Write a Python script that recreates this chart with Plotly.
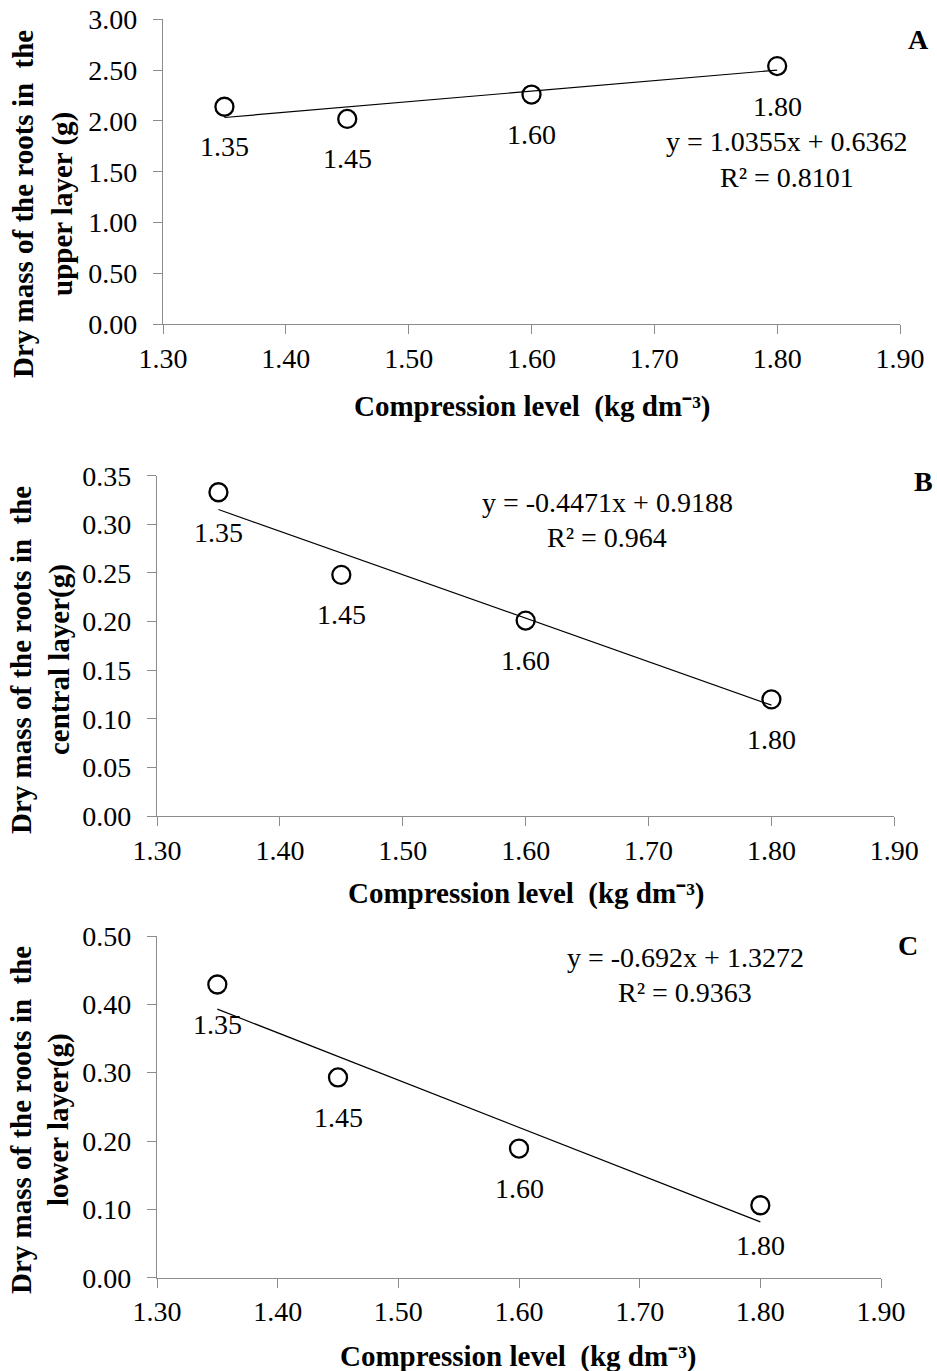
import plotly.graph_objects as go

# ---------------- data ----------------
compression = [1.35, 1.45, 1.60, 1.80]
upper_mass = [2.14, 2.02, 2.26, 2.54]
central_mass = [0.333, 0.248, 0.201, 0.120]
lower_mass = [0.429, 0.293, 0.189, 0.106]

slopes = [1.0355, -0.4471, -0.692]
intercepts = [0.6362, 0.9188, 1.3272]
equations = ["y = 1.0355x + 0.6362", "y = -0.4471x + 0.9188", "y = -0.692x + 1.3272"]
r_squared = ["R² = 0.8101", "R² = 0.964", "R² = 0.9363"]
panel_letters = ["A", "B", "C"]
y_titles_1 = ["Dry mass of the roots in  the", "Dry mass of the roots in  the", "Dry mass of the roots in  the"]
y_titles_2 = ["upper layer (g)", "central layer(g)", "lower layer(g)"]
x_title = "Compression level  (kg dm⁻³)"
y_max = [3.0, 0.35, 0.5]
y_dtick = [0.5, 0.05, 0.1]
x_ticks = [1.30, 1.40, 1.50, 1.60, 1.70, 1.80, 1.90]

series = [upper_mass, central_mass, lower_mass]

# ---------------- layout geometry (pixels) ----------------
W, H = 937, 1371
plot_px = [  # x0, x1, ytop, ybottom
    (163, 900, 19.3, 324.3),
    (157, 894.3, 475.7, 816.0),
    (157, 881, 936.0, 1277.7),
]
eq_px = [(787, 142), (607, 502), (685, 957)]
letter_px = [(918, 40), (923, 482), (908, 945)]
xtitle_px = [(532, 406), (526, 893), (518, 1356)]
ytitle_px = [(23, 63, 204), (21, 59, 660), (21, 58, 1120)]

FONT = "Liberation Serif, Times New Roman, serif"
AX_COLOR = "#8c8c8c"
FS = 28

def px(x):
    return x / W

def py(y):
    return 1 - y / H

fig = go.Figure()
annotations = []
layout = dict(
    width=W, height=H,
    margin=dict(l=0, r=0, t=0, b=0, autoexpand=False),
    paper_bgcolor="white", plot_bgcolor="white",
    showlegend=False,
    font=dict(family=FONT, size=FS, color="black"),
)

for i in range(3):
    sfx = "" if i == 0 else str(i + 1)
    xa, ya = "x" + sfx, "y" + sfx
    x0, x1, yt, yb = plot_px[i]
    xmin, xmax = min(compression), max(compression)
    fig.add_trace(go.Scatter(
        x=[xmin, xmax],
        y=[slopes[i] * xmin + intercepts[i], slopes[i] * xmax + intercepts[i]],
        mode="lines", line=dict(color="black", width=1.2),
        xaxis=xa, yaxis=ya, hoverinfo="skip"))
    fig.add_trace(go.Scatter(
        x=compression, y=series[i], mode="markers",
        marker=dict(symbol="circle-open", size=18, color="black",
                    line=dict(width=2.3, color="black")),
        xaxis=xa, yaxis=ya))
    common = dict(showgrid=False, zeroline=False, showline=True, linecolor=AX_COLOR,
                  linewidth=1.3, ticks="outside", ticklen=9, tickcolor=AX_COLOR,
                  tickwidth=1.3, tickfont=dict(family=FONT, size=FS, color="black"),
                  tickformat=".2f", automargin=False)
    layout["xaxis" + sfx] = dict(common, domain=[px(x0), px(x1)], range=[1.3, 1.9],
                                 tickvals=x_ticks, anchor=ya)
    layout["yaxis" + sfx] = dict(common, domain=[py(yb), py(yt)], range=[0, y_max[i]],
                                 dtick=y_dtick[i], tick0=0, anchor=xa,
                                 ticklabelstandoff=10)
    # point labels
    for xv, yv in zip(compression, series[i]):
        annotations.append(dict(x=xv, y=yv, xref=xa, yref=ya, text=f"{xv:.2f}",
                                showarrow=False, yshift=-40,
                                font=dict(family=FONT, size=FS, color="black")))
    ex, ey = eq_px[i]
    annotations.append(dict(x=px(ex), y=py(ey), xref="paper", yref="paper",
                            text=equations[i], showarrow=False,
                            xanchor="center", yanchor="middle",
                            font=dict(family=FONT, size=FS, color="black")))
    annotations.append(dict(x=px(ex), y=py(ey + 35), xref="paper", yref="paper",
                            text=r_squared[i], showarrow=False,
                            xanchor="center", yanchor="middle",
                            font=dict(family=FONT, size=FS, color="black")))
    lx, ly = letter_px[i]
    annotations.append(dict(x=px(lx), y=py(ly), xref="paper", yref="paper",
                            text=f"<b>{panel_letters[i]}</b>", showarrow=False,
                            xanchor="center", yanchor="middle",
                            font=dict(family=FONT, size=FS, color="black")))
    tx, ty = xtitle_px[i]
    annotations.append(dict(x=px(tx), y=py(ty), xref="paper", yref="paper",
                            text=f"<b>{x_title}</b>", showarrow=False,
                            xanchor="center", yanchor="middle",
                            font=dict(family=FONT, size=29, color="black")))
    yx1, yx2, yy = ytitle_px[i]
    annotations.append(dict(x=px(yx1), y=py(yy), xref="paper", yref="paper",
                            text=f"<b>{y_titles_1[i]}</b>", showarrow=False,
                            textangle=-90, xanchor="center", yanchor="middle",
                            font=dict(family=FONT, size=29, color="black")))
    annotations.append(dict(x=px(yx2), y=py(yy), xref="paper", yref="paper",
                            text=f"<b>{y_titles_2[i]}</b>", showarrow=False,
                            textangle=-90, xanchor="center", yanchor="middle",
                            font=dict(family=FONT, size=29, color="black")))

layout["annotations"] = annotations
fig.update_layout(**layout)
fig.write_html("out.html")
